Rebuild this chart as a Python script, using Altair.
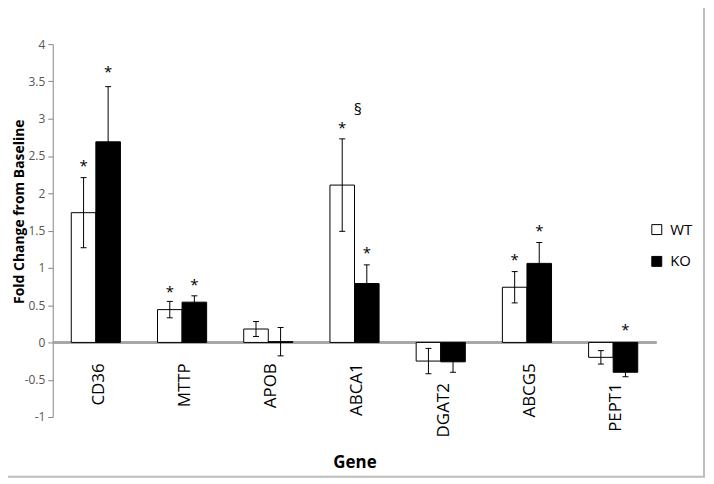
import altair as alt
import pandas as pd

genes = ["CD36", "MTTP", "APOB", "ABCA1", "DGAT2", "ABCG5", "PEPT1"]
groups = ["WT", "KO"]
wt_mean = [1.74, 0.44, 0.18, 2.11, -0.25, 0.74, -0.20]
wt_err = [0.47, 0.11, 0.10, 0.62, 0.17, 0.21, 0.09]
ko_mean = [2.69, 0.54, 0.01, 0.79, -0.26, 1.06, -0.40]
ko_err = [0.74, 0.085, 0.19, 0.25, 0.14, 0.28, 0.06]

# genes whose category labels sit lower (below their negative bars)
low_label_genes = ["DGAT2", "PEPT1"]

# significance markers (gene, group, symbol, height in fold-change units)
star_gene = ["CD36", "CD36", "MTTP", "MTTP", "ABCA1", "ABCA1", "ABCG5", "ABCG5", "PEPT1"]
star_group = ["WT", "KO", "WT", "KO", "WT", "KO", "WT", "KO", "KO"]
star_level = [2.40, 3.66, 0.715, 0.81, 2.92, 1.245, 1.147, 1.54, 0.20]
sect_gene = ["ABCA1"]
sect_group = ["KO"]
sect_level = [3.12]

y_ticks = [-1, -0.5, 0, 0.5, 1, 1.5, 2, 2.5, 3, 3.5, 4]

rows = []
for i, g in enumerate(genes):
    rows.append(dict(gene=g, group="WT", mean=wt_mean[i], err=wt_err[i]))
    rows.append(dict(gene=g, group="KO", mean=ko_mean[i], err=ko_err[i]))
df = pd.DataFrame(rows)
df["lo"] = df["mean"] - df["err"]
df["hi"] = df["mean"] + df["err"]

stars = pd.DataFrame(dict(gene=star_gene, group=star_group, level=star_level, sym=["*"] * len(star_gene)))
sect = pd.DataFrame(dict(gene=sect_gene, group=sect_group, level=sect_level, sym=["§"]))
labels_hi = pd.DataFrame(dict(gene=[g for g in genes if g not in low_label_genes]))
labels_lo = pd.DataFrame(dict(gene=low_label_genes))

FONT = "Open Sans"
YTITLE = "Fold Change from Baseline"

x_enc = alt.X(
    "gene:N", sort=genes,
    scale=alt.Scale(domain=genes, paddingInner=0.43, paddingOuter=0.215),
    axis=alt.Axis(
        title="Gene", labels=False, domain=False, ticks=False,
        titleFont=FONT, titleFontSize=17, titleFontWeight="bold", titleColor="black",
        titleY=46, titleBaseline="middle",
    ),
)
xo_enc = alt.XOffset("group:N", scale=alt.Scale(domain=groups, paddingInner=0, paddingOuter=0))
y_scale = alt.Scale(domain=[-1, 4], nice=False, zero=False)
y_axis = alt.Axis(
    values=y_ticks, grid=False, domainColor="#868686", tickColor="#868686", tickSize=5,
    labelFont=FONT, labelFontSize=12, labelColor="#555555", labelPadding=3,
    labelOverlap=False, labelExpr="'' + datum.value",
    titleFont=FONT, titleFontSize=14, titleFontWeight="bold", titleColor="black",
    titleX=-33, titleY=168, titleAngle=-90, titleBaseline="middle", titleAlign="center",
)


def Y(field=None, **kw):
    if field is None:
        return alt.Y(scale=y_scale, axis=y_axis, title=YTITLE, **kw)
    return alt.Y(field, scale=y_scale, axis=y_axis, title=YTITLE, **kw)


base = alt.Chart(df)

border = alt.Chart(pd.DataFrame({"a": [0]})).mark_rect(
    fillOpacity=0, stroke="#bdbdbd", strokeWidth=2
).encode(x=alt.value(-48), x2=alt.value(655), y=alt.value(-38), y2=alt.value(435))

zero = base.mark_rule(color="#a6a6a6", strokeWidth=1.5).encode(y=Y(datum=0))

bars = base.mark_bar(stroke="black", strokeWidth=1).encode(
    x=x_enc, xOffset=xo_enc,
    y=Y("mean:Q"),
    fill=alt.Fill(
        "group:N",
        scale=alt.Scale(domain=groups, range=["white", "black"]),
        legend=alt.Legend(
            title=None, orient="none", legendX=600, legendY=179,
            symbolType="square", symbolSize=100, symbolStrokeColor="black",
            symbolStrokeWidth=1, labelFont=FONT, labelFontSize=15, labelColor="black",
            labelOffset=6, rowPadding=16,
        ),
    ),
)

rules = base.mark_rule(color="black", strokeWidth=1).encode(
    x=x_enc, xOffset=xo_enc, y=Y("lo:Q"), y2="hi:Q",
)
cap_lo = base.mark_tick(orient="horizontal", size=6, thickness=1, color="black", opacity=1).encode(
    x=x_enc, xOffset=xo_enc, y=Y("lo:Q"),
)
cap_hi = base.mark_tick(orient="horizontal", size=6, thickness=1, color="black", opacity=1).encode(
    x=x_enc, xOffset=xo_enc, y=Y("hi:Q"),
)

star_txt = alt.Chart(stars).mark_text(font=FONT, fontSize=15, baseline="middle", dy=3, color="black").encode(
    x=x_enc, xOffset=xo_enc, y=Y("level:Q"), text="sym:N",
)
sect_txt = alt.Chart(sect).mark_text(font=FONT, fontSize=16, baseline="middle", dx=-9, color="black").encode(
    x=x_enc, xOffset=xo_enc, y=Y("level:Q"), text="sym:N",
)


def cat_labels(data, gap):
    return alt.Chart(data).mark_text(
        font=FONT, fontSize=17, color="black", angle=270, align="right",
        baseline="middle", dx=-gap, dy=3,
    ).encode(
        x=x_enc, y=Y(datum=0), text="gene:N",
    )


lab_hi = cat_labels(labels_hi, 21)
lab_lo = cat_labels(labels_lo, 41)

chart = alt.layer(border, zero, bars, rules, cap_lo, cap_hi, star_txt, sect_txt, lab_hi, lab_lo).properties(
    width=607, height=375,
    padding={"left": 45, "top": 35, "right": 50, "bottom": 60},
    autosize=alt.AutoSizeParams(type="none"),
).configure_view(stroke=None)

chart.save("out.html", embed_options={"renderer": "svg", "actions": False})
